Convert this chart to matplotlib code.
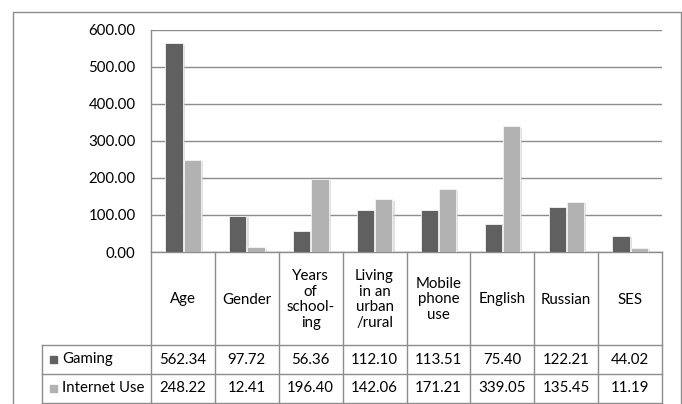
import matplotlib
matplotlib.use("Agg")
import matplotlib.pyplot as plt
import matplotlib.patheffects as pe
from matplotlib.patches import Rectangle
import numpy as np

plt.rcParams['font.family'] = ['Lato', 'DejaVu Sans']

categories = ["Age", "Gender", "Years\nof\nschool-\ning", "Living\nin an\nurban\n/rural",
              "Mobile\nphone\nuse", "English", "Russian", "SES"]
series_names = ["Gaming", "Internet Use"]
gaming = [562.34, 97.72, 56.36, 112.10, 113.51, 75.40, 122.21, 44.02]
internet_use = [248.22, 12.41, 196.40, 142.06, 171.21, 339.05, 135.45, 11.19]
y_ticks = [0, 100, 200, 300, 400, 500, 600]

colors = ["#606060", "#b2b2b2"]
line_c = "#8c8c8c"
txt_c = "#000000"
fs = 10.8

W, H = 682, 404
fig = plt.figure(figsize=(W / 100, H / 100), dpi=100)

# pixel layout of the plot area
x0, x1 = 151, 662
y_top, y_zero = 29.5, 252

ax = fig.add_axes([x0 / W, 1 - y_zero / H, (x1 - x0) / W, (y_zero - y_top) / H])
n = len(categories)
x = np.arange(n)
shadow = [pe.SimplePatchShadow(offset=(1.5, -1.0), shadow_rgbFace="0.8", alpha=0.6), pe.Normal()]
ax.bar(x - 0.14, gaming, width=0.27, color=colors[0], edgecolor="#f4f4f4", linewidth=0.6,
       path_effects=shadow, zorder=3)
ax.bar(x + 0.145, internet_use, width=0.27, color=colors[1], edgecolor="#f4f4f4", linewidth=0.6,
       path_effects=shadow, zorder=3)
ax.set_xlim(-0.5, n - 0.5)
ax.set_ylim(0, 600)
ax.set_yticks(y_ticks)
ax.set_yticklabels([f"{v:.2f}" for v in y_ticks], fontsize=fs, color=txt_c)
ax.set_xticks([])
ax.tick_params(axis="y", length=0, pad=11)
ax.yaxis.grid(True, color=line_c, linewidth=1.0)
ax.set_axisbelow(True)
for s in ["top", "right"]:
    ax.spines[s].set_visible(False)
for s in ["left", "bottom"]:
    ax.spines[s].set_color(line_c)
    ax.spines[s].set_linewidth(1.0)

# overlay in pixel coordinates for the frame and data table
oax = fig.add_axes([0, 0, 1, 1], zorder=-1)
oax.set_xlim(0, W)
oax.set_ylim(H, 0)
oax.axis("off")
oax.add_patch(Rectangle((13, 11.5), 668, 410, fill=False, edgecolor=line_c, linewidth=1.0))

tax = fig.add_axes([0, 0, 1, 1], zorder=5)
tax.set_xlim(0, W)
tax.set_ylim(H, 0)
tax.axis("off")
tax.patch.set_alpha(0)

col_w = (x1 - x0) / n
row_y = [y_zero, 345, 374, 403]
tab_left = 42
for i in range(n + 1):
    xx = x0 + i * col_w
    tax.plot([xx, xx], [row_y[0], row_y[-1]], color=line_c, lw=1.0)
tax.plot([tab_left, tab_left], [row_y[1], row_y[-1]], color=line_c, lw=1.0)
for yy in row_y[1:]:
    tax.plot([tab_left, x1], [yy, yy], color=line_c, lw=1.0)

for i, cat in enumerate(categories):
    cx = x0 + (i + 0.5) * col_w
    tax.text(cx, (row_y[0] + row_y[1]) / 2 + 1, cat, ha="center", va="center",
             fontsize=fs, color=txt_c, linespacing=1.18)

for r, (name, vals) in enumerate(zip(series_names, [gaming, internet_use])):
    cy = (row_y[r + 1] + row_y[r + 2]) / 2
    tax.add_patch(Rectangle((50, cy - 3.5), 6.5, 6.5, color=colors[r]))
    tax.text(62, cy, name, ha="left", va="center", fontsize=fs, color=txt_c)
    for i, v in enumerate(vals):
        cx = x0 + (i + 0.5) * col_w
        tax.text(cx, cy, f"{v:.2f}", ha="center", va="center", fontsize=fs, color=txt_c)

fig.savefig("out.png", dpi=100)
